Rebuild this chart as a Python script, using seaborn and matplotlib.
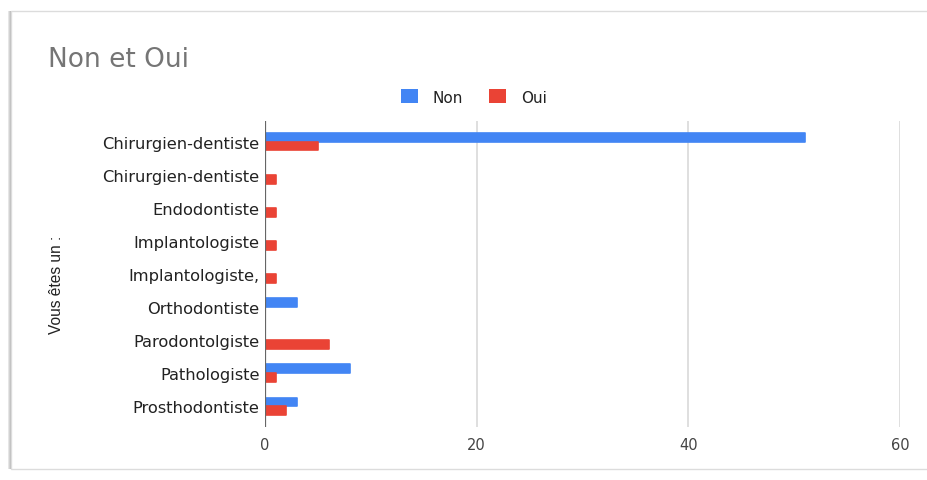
import matplotlib
matplotlib.use("Agg")
import matplotlib.pyplot as plt
from matplotlib.patches import Rectangle, Patch
import pandas as pd
import seaborn as sns

categories = [
    "Chirurgien-dentiste",
    "Chirurgien-dentiste ",
    "Endodontiste",
    "Implantologiste",
    "Implantologiste,",
    "Orthodontiste",
    "Parodontolgiste",
    "Pathologiste",
    "Prosthodontiste",
]
non_values = [51, 0, 0, 0, 0, 3, 0, 8, 3]
oui_values = [5, 1, 1, 1, 1, 0, 6, 1, 2]
series_names = ["Non", "Oui"]
series_colors = ["#4285F4", "#EA4335"]
x_ticks = [0, 20, 40, 60]

df = pd.DataFrame({
    "cat": categories * 2,
    "val": non_values + oui_values,
    "serie": [series_names[0]] * len(categories) + [series_names[1]] * len(categories),
})

sns.set_theme(style="white")
plt.rcParams["font.family"] = ["DejaVu Sans"]

fig = plt.figure(figsize=(9.27, 4.81), dpi=100)
fig.patch.set_facecolor("white")

# card outline with a soft shadow on the left edge
W, H = 927, 481
for off, col in [(3, "#e6e6e6"), (2, "#d2d2d2"), (1, "#bdbdbd")]:
    fig.add_artist(Rectangle(((11 - off) / W, (H - 470) / H), 2 / W, 458 / H,
                             transform=fig.transFigure, facecolor=col, edgecolor="none", zorder=0))
fig.add_artist(Rectangle((11 / W, (H - 470) / H), (930 - 11) / W, (470 - 12) / H,
                         transform=fig.transFigure, facecolor="white", edgecolor="#dcdcdc",
                         linewidth=1.0, zorder=0))

ax = fig.add_axes([265 / W, (H - 428) / H, (900 - 265) / W, (428 - 122) / H])
ax.set_facecolor("none")

sns.barplot(data=df, y="cat", x="val", hue="serie", orient="h",
            palette=series_colors, width=0.54, ax=ax, legend=False,
            saturation=1, zorder=3)

# soften the bar corners
for bar in ax.patches:
    bar.set_edgecolor(bar.get_facecolor())
    bar.set_linewidth(1.2)
    bar.set_joinstyle("round")
    if bar.get_width() == 0:
        bar.set_visible(False)

ax.set_xlim(0, 60)
ax.set_xticks(x_ticks)
ax.set_xticklabels([str(t) for t in x_ticks], fontsize=10.5, color="#444444")
ax.tick_params(axis="x", length=0, pad=7)
ax.tick_params(axis="y", length=0, pad=4, labelsize=11.7, labelcolor="#222222")
ax.set_yticks(range(len(categories)))
ax.set_yticklabels([c.strip() for c in categories])
ax.set_ylim(len(categories) - 0.5 + 0.12, -0.5 - 0.12)

ax.xaxis.grid(True, color="#d9d9d9", linewidth=1.2, zorder=0)
ax.yaxis.grid(False)
for s in ax.spines.values():
    s.set_visible(False)
ax.axvline(0, color="#666666", linewidth=1.6, zorder=4)

ax.set_xlabel("")
ax.set_ylabel("Vous êtes un :", fontsize=11.2, color="#222222",
              family=["Liberation Sans", "DejaVu Sans"])
ax.yaxis.set_label_coords((64 - 265) / (900 - 265), (428 - 285) / (428 - 122))

fig.text(48 / W, 1 - 60 / H, "Non et Oui", fontsize=19, color="#757575", va="center", ha="left")

handles = [Patch(facecolor=c, edgecolor="none") for c in series_colors]
fig.legend(handles, series_names, loc="center", bbox_to_anchor=(474 / W, 1 - 98 / H),
           ncol=2, frameon=False, fontsize=11, handlelength=1.1, handleheight=1.0,
           columnspacing=1.7, handletextpad=1.0, labelcolor="#222222")

fig.savefig("out.png", dpi=100, facecolor="white")
